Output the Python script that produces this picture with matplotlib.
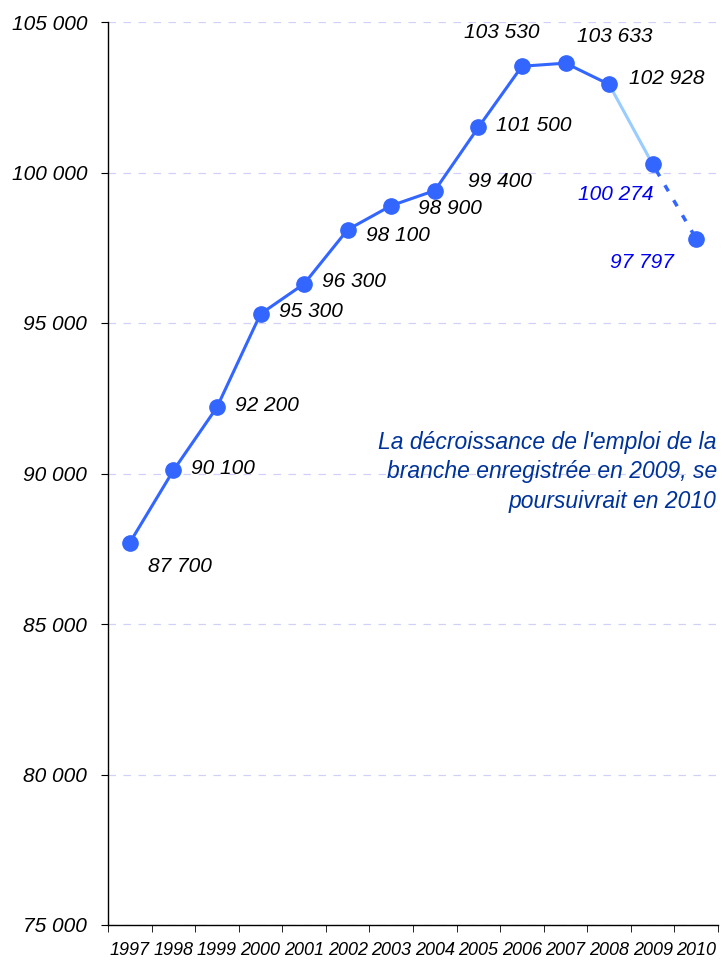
import matplotlib
matplotlib.use("Agg")
import matplotlib.pyplot as plt
from matplotlib.ticker import FuncFormatter

years = ["1997", "1998", "1999", "2000", "2001", "2002", "2003",
         "2004", "2005", "2006", "2007", "2008", "2009", "2010"]
emplois = [87700, 90100, 92200, 95300, 96300, 98100, 98900,
           99400, 101500, 103530, 103633, 102928, 100274, 97797]
labels = ["87 700", "90 100", "92 200", "95 300", "96 300", "98 100", "98 900",
          "99 400", "101 500", "103 530", "103 633", "102 928", "100 274", "97 797"]
# label offsets in points (dx, dy) and colours
offsets = [(13, -17), (13, 1.5), (13, 1.5), (13, 1.5), (13, 1.5), (13, -4), (19, -2),
           (24, 6.5), (13, 1.5), (-42, 24.5), (8, 19.5), (14.5, 4.3), (-54, -22), (-62, -17)]
label_colors = ["#000000"] * 12 + ["#0000EE", "#0000EE"]

plt.rcParams["font.family"] = ["Liberation Sans", "DejaVu Sans"]

fig = plt.figure(figsize=(7.23, 9.66), dpi=100)
ax = fig.add_axes([108 / 723, 41 / 966, 610 / 723, 903 / 966])

x = list(range(len(years)))
blue = "#3366FF"

# solid history, light segment for 2009, dotted forecast for 2010
ax.plot(x[:12], emplois[:12], color=blue, lw=2.2, zorder=3)
ax.plot(x[11:13], emplois[11:13], color="#99CCFF", lw=2.2, zorder=3)
ax.plot(x[12:14], emplois[12:14], color=blue, lw=2.5, ls=(3, (2, 3)), zorder=3)
ax.plot(x, emplois, "o", color=blue, ms=11, zorder=4)

for xi, yi, lab, (dx, dy), c in zip(x, emplois, labels, offsets, label_colors):
    ax.annotate(lab, (xi, yi), xytext=(dx, dy), textcoords="offset points",
                fontsize=15, style="italic", color=c, va="center", ha="left")

ax.text(0.998, 0.502, "La décroissance de l'emploi de la\nbranche enregistrée en 2009, se\npoursuivrait en 2010",
        transform=ax.transAxes, ha="right", va="center", fontsize=16.5,
        style="italic", color="#003399", linespacing=1.37)

ax.set_xlim(-0.5, len(years) - 0.5)
ax.set_ylim(75000, 105000)
ax.set_yticks(range(75000, 105001, 5000))
ax.yaxis.set_major_formatter(FuncFormatter(lambda v, p: f"{int(v):,}".replace(",", " ")))
ax.set_xticks(x)
ax.set_xticklabels(years)
ax.set_xticks([i - 0.5 for i in range(len(years) + 1)], minor=True)
ax.tick_params(axis="x", which="major", length=0, pad=12)
ax.tick_params(axis="x", which="minor", length=5, direction="out")
ax.tick_params(axis="y", length=5, direction="out", pad=10)
for t in ax.get_yticklabels():
    t.set_fontstyle("italic")
    t.set_fontsize(15)
for t in ax.get_xticklabels():
    t.set_fontstyle("italic")
    t.set_fontsize(13)

ax.grid(axis="y", color="#D0D0F8", ls=(0, (6, 6)), lw=0.9)
ax.set_axisbelow(True)
for s in ["top", "right"]:
    ax.spines[s].set_visible(False)
ax.spines["left"].set_linewidth(1)
ax.spines["bottom"].set_linewidth(1)

fig.savefig("out.png", dpi=100)
